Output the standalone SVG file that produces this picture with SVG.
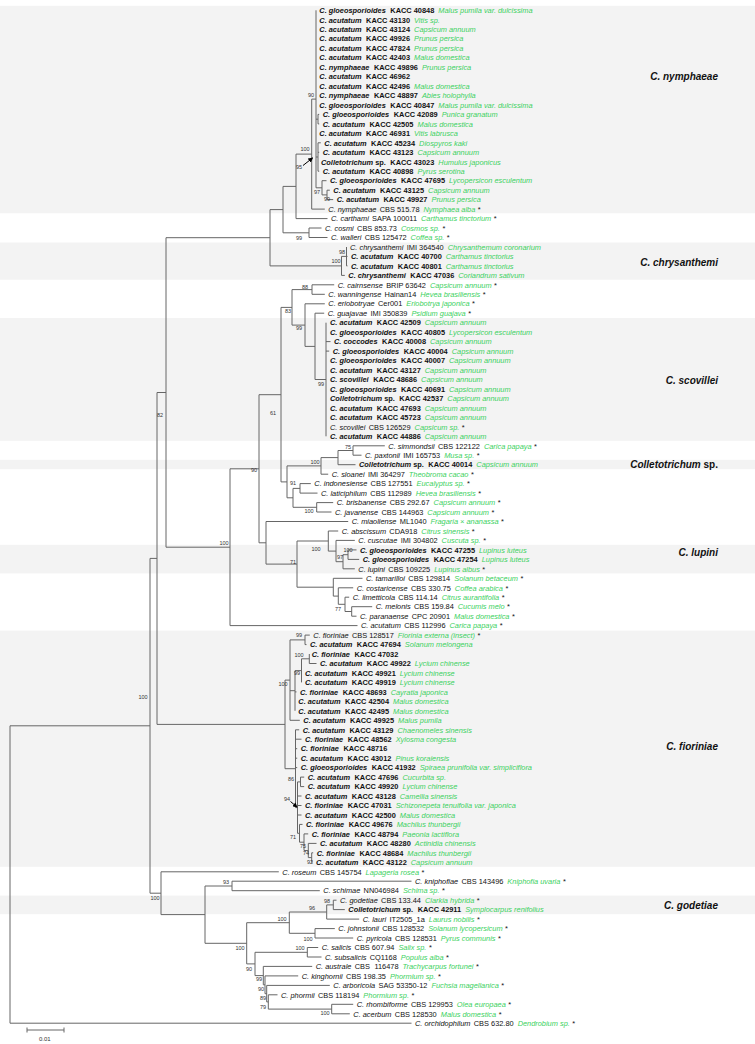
<svg xmlns="http://www.w3.org/2000/svg" width="755" height="1044" viewBox="0 0 755 1044">
<style>
text{font-family:"Liberation Sans",Arial,sans-serif;font-size:7.4px;fill:#111}
.i{font-style:italic}.b{font-weight:bold}
.h{fill:#3bd160;font-style:italic;font-weight:normal}
.bs{font-size:5.5px;fill:#333;text-anchor:middle}
.cl{font-size:10px;font-weight:bold;font-style:italic;text-anchor:end}
.ln{stroke:#666;stroke-width:1;fill:none}
.ar{stroke:#000;stroke-width:1;fill:none}
.band{fill:#f3f3f3}
</style>
<defs>
<marker id="ah" viewBox="0 0 6 6" refX="5" refY="3" markerWidth="5" markerHeight="5" orient="auto"><path d="M0 0L6 3L0 6z" fill="#000"/></marker>
</defs>
<g id="bands">
<rect class="band" x="0" y="5.8" width="755" height="207.5"/>
<rect class="band" x="0" y="242.5" width="755" height="37.2"/>
<rect class="band" x="0" y="318" width="755" height="122.8"/>
<rect class="band" x="0" y="459.8" width="755" height="9.4"/>
<rect class="band" x="0" y="544.8" width="755" height="28.6"/>
<rect class="band" x="0" y="630.6" width="755" height="236.2"/>
<rect class="band" x="0" y="895.6" width="755" height="18.6"/>
</g>
<g id="connectors" class="ln">
<path d="M316 10.3V187.8M316 119.2H318M318 114.4V123.9M318 114.4H319.2M318 123.9H319.2M316 157H318M318 142.8V171.2M318 142.8H320.8M318 152.3H319.2M318 171.2H319.2M316 187.8H322M322 180.7V194.9M322 180.7H326.5M322 194.9H327M327 190.2V199.6M327 190.2H329.8M327 199.6H333.2M311.7 99.1V209.1M311.7 99.1H316M311.7 209.1H324.8M296 154.1V218.6M296 154.1H311.7M296 218.6H327.5M309 228V237.5M309 228H321.5M309 237.5H327.5M283 186.4V232.8M283 186.4H296M283 232.8H309"/>
<path d="M346.5 247V265.9M346.5 256.4H347.5M346.5 265.9H347.5M341.5 256.4V275.4M341.5 256.4H346.5M341.5 275.4H344.8M270 209.6V265.9M270 209.6H283M270 265.9H341.5M312 284.8V294.3M312 284.8H334.2M312 294.3H324.8M326 322.7V436.3M326 341.6H330.5M326 351.1H329.2M315 313.2V379.5M315 313.2H324.2M315 379.5H326M305 303.8V346.4M305 303.8H324.8M305 346.4H315M292 289.6V325.1M292 289.6H312M292 325.1H305"/>
<path d="M353 445.8V455.2M353 445.8H384.8M353 455.2H361.5M338 450.5V464.7M338 450.5H353M338 464.7H355.5M321 457.6V474.2M321 457.6H338M321 474.2H328.2M300 483.6V493.1M300 483.6H310.8M300 493.1H317.5M316.7 502.6V512M316.7 502.6H333.2M316.7 512H331.5M293 488.4V507.3M293 488.4H300M293 507.3H316.7M287 465.9V497.8M287 465.9H321M287 497.8H293M281 307.4V481.9M281 307.4H292M281 481.9H287"/>
<path d="M348 549.9V559.4M348 549.9H356.5M348 559.4H359.2M343 554.7V568.8M343 554.7H348M343 568.8H354.8M336 540.4V561.7M336 540.4H354.8M336 561.7H343M328.3 531V551.1M328.3 531H338.2M328.3 551.1H336M351.7 606.7V616.2M351.7 606.7H372.2M351.7 616.2H356.5M345 597.2V611.5M345 597.2H349.2M345 611.5H351.7M338.3 587.8V604.3M338.3 587.8H353.2M338.3 604.3H345M333.3 578.3V596.1M333.3 578.3H362.5M333.3 596.1H338.3M297 541V587.2M297 541H328.3M297 587.2H333.3M266 521.5V564.1M266 521.5H348.2M266 564.1H297M259 394.7V542.8M259 394.7H281M259 542.8H266M230 468.8V625.6M230 468.8H259M230 625.6H357.5M166 237.7V547.2M166 237.7H270M166 547.2H230"/>
<path d="M305 635.1V644.6M305 635.1H309.8M305 644.6H306.5M309.3 654V663.5M309.3 663.5H316.5M301.5 658.8V682.4M301.5 658.8H309.3M295 670.6V710.8M295 670.6H301.5M295 691.9H296.5M290 639.9V720.3M290 639.9H305M290 690.7H295M290 720.3H299.8M311.7 852.8V862.3M311.7 852.8H313.2M311.7 862.3H312.5M308.3 843.4V857.6M308.3 843.4H316.5M308.3 857.6H311.7M304 833.9V850.5M304 833.9H308.2M304 850.5H308.3M299.5 824.4V842.2M299.5 824.4H302.5M299.5 842.2H304M300.5 777.1V786.6M300.5 777.1H304.2M300.5 786.6H304.2M297.5 781.9V833.3M297.5 781.9H300.5M297.5 796H301.5M297.5 805.5H301.5M297.5 815H301.5M297.5 833.3H299.5M295.5 729.8V807.6M295.5 729.8H299.2M295.5 739.2H301.5M295.5 748.7H297.2M295.5 758.2H297.2M295.5 767.6H297.2M295.5 807.6H297.5M285 680.1V768.7M285 680.1H290M285 768.7H295.5"/>
<path d="M333.3 900.2V909.6M333.3 900.2H336.5M333.3 909.6H344.8M326.7 904.9V919.1M326.7 904.9H333.3M326.7 919.1H359.2M315 928.6V938M315 928.6H334.8M315 938H353.2M289.3 912V933.3M289.3 912H326.7M289.3 933.3H315M307.3 947.5V957M307.3 947.5H318.2M307.3 957H321.5M331.7 1004.3V1013.8M331.7 1004.3H353.2M331.7 1013.8H349.8M268.3 994.8V1009.1M268.3 994.8H277.5M268.3 1009.1H331.7M266.7 985.4V1001.9M266.7 985.4H329.8M266.7 1001.9H268.3M265 975.9V993.7M265 975.9H298.2M265 993.7H266.7M263.3 966.4V984.8M263.3 966.4H312.2M263.3 984.8H265M255 952.3V975.6M255 952.3H307.3M255 975.6H263.3M246.7 922.7V963.9M246.7 922.7H289.3M246.7 963.9H255M232 881.2V890.7M232 881.2H411.5M232 890.7H319.8M205 886V943.3M205 886H232M205 943.3H246.7M161 871.8V914.6M161 871.8H278.8M161 914.6H205M157 392.5V724.4M157 392.5H166M157 724.4H285M150 558.4V893.2M150 558.4H157M150 893.2H161M10 725.8V1023.2M10 725.8H150M10 1023.2H411.5"/>
<path d="M27 1030H64M27 1027.5V1032.5M64 1027.5V1032.5"/>
</g>
<g id="arrows" class="ar">
<path d="M303 165.5L312.5 158" marker-end="url(#ah)"/>
<path d="M290.5 801.5L297 807" marker-end="url(#ah)"/>
</g>
<g id="bootstrap">
<text class="bs" x="311" y="97">90</text><text class="bs" x="305" y="151">100</text><text class="bs" x="299" y="169">95</text><text class="bs" x="317" y="194">97</text><text class="bs" x="327" y="201">99</text>
<text class="bs" x="299" y="240">99</text><text class="bs" x="342" y="254">98</text><text class="bs" x="336" y="263">100</text><text class="bs" x="305" y="289">88</text><text class="bs" x="288" y="313">83</text><text class="bs" x="299" y="330">99</text><text class="bs" x="321" y="386">99</text>
<text class="bs" x="273" y="415">61</text><text class="bs" x="348" y="449">75</text><text class="bs" x="315" y="464">100</text><text class="bs" x="254" y="472">90</text><text class="bs" x="293" y="485">91</text><text class="bs" x="309" y="513">100</text>
<text class="bs" x="160" y="417">82</text><text class="bs" x="224" y="545">100</text><text class="bs" x="316" y="551">100</text><text class="bs" x="348" y="552">100</text><text class="bs" x="340" y="559">97</text><text class="bs" x="293" y="564">71</text><text class="bs" x="338" y="611">77</text>
<text class="bs" x="299" y="637">99</text><text class="bs" x="299" y="657">100</text><text class="bs" x="297" y="675">99</text><text class="bs" x="283" y="686">100</text><text class="bs" x="143" y="699">100</text>
<text class="bs" x="291" y="781">86</text><text class="bs" x="287" y="801">94</text><text class="bs" x="293" y="839">71</text><text class="bs" x="303" y="848">75</text><text class="bs" x="306" y="855">74</text><text class="bs" x="310" y="864">92</text>
<text class="bs" x="155" y="900">100</text><text class="bs" x="226" y="884">93</text><text class="bs" x="327" y="903">98</text><text class="bs" x="312" y="910">96</text><text class="bs" x="282" y="921">100</text><text class="bs" x="308" y="941">100</text>
<text class="bs" x="240" y="950">100</text><text class="bs" x="300" y="950">100</text><text class="bs" x="249" y="971">90</text><text class="bs" x="259" y="981">99</text><text class="bs" x="261" y="991">90</text><text class="bs" x="263" y="1000">89</text><text class="bs" x="263" y="1009">79</text><text class="bs" x="325" y="1015">100</text>
<text style="font-size:6px;fill:#333" x="39" y="1041">0.01</text>
</g>
<g id="taxa">
<text x="319.3" y="13"><tspan class="b i">C. gloeosporioides</tspan><tspan class="b" dx="4.5">KACC 40848</tspan><tspan class="h" dx="4">Malus pumila var. dulcissima</tspan></text>
<text x="319.3" y="22.5"><tspan class="b i">C. acutatum</tspan><tspan class="b" dx="4.5">KACC 43130</tspan><tspan class="h" dx="4">Vitis sp.</tspan></text>
<text x="319.3" y="31.9"><tspan class="b i">C. acutatum</tspan><tspan class="b" dx="4.5">KACC 43124</tspan><tspan class="h" dx="4">Capsicum annuum</tspan></text>
<text x="319.3" y="41.4"><tspan class="b i">C. acutatum</tspan><tspan class="b" dx="4.5">KACC 49926</tspan><tspan class="h" dx="4">Prunus persica</tspan></text>
<text x="319.3" y="50.9"><tspan class="b i">C. acutatum</tspan><tspan class="b" dx="4.5">KACC 47824</tspan><tspan class="h" dx="4">Prunus persica</tspan></text>
<text x="319.3" y="60.3"><tspan class="b i">C. acutatum</tspan><tspan class="b" dx="4.5">KACC 42403</tspan><tspan class="h" dx="4">Malus domestica</tspan></text>
<text x="319.3" y="69.8"><tspan class="b i">C. nymphaeae</tspan><tspan class="b" dx="4.5">KACC 49896</tspan><tspan class="h" dx="4">Prunus persica</tspan></text>
<text x="319.3" y="79.3"><tspan class="b i">C. acutatum</tspan><tspan class="b" dx="4.5">KACC 46962</tspan></text>
<text x="319.3" y="88.7"><tspan class="b i">C. acutatum</tspan><tspan class="b" dx="4.5">KACC 42496</tspan><tspan class="h" dx="4">Malus domestica</tspan></text>
<text x="319.3" y="98.2"><tspan class="b i">C. nymphaeae</tspan><tspan class="b" dx="4.5">KACC 48897</tspan><tspan class="h" dx="4">Abies holophylla</tspan></text>
<text x="319.3" y="107.7"><tspan class="b i">C. gloeosporioides</tspan><tspan class="b" dx="4.5">KACC 40847</tspan><tspan class="h" dx="4">Malus pumila var. dulcissima</tspan></text>
<text x="322.7" y="117.1"><tspan class="b i">C. gloeosporioides</tspan><tspan class="b" dx="4.5">KACC 42089</tspan><tspan class="h" dx="4">Punica granatum</tspan></text>
<text x="322.7" y="126.6"><tspan class="b i">C. acutatum</tspan><tspan class="b" dx="4.5">KACC 42505</tspan><tspan class="h" dx="4">Malus domestica</tspan></text>
<text x="319.3" y="136.1"><tspan class="b i">C. acutatum</tspan><tspan class="b" dx="4.5">KACC 46931</tspan><tspan class="h" dx="4">Vitis labrusca</tspan></text>
<text x="324.3" y="145.5"><tspan class="b i">C. acutatum</tspan><tspan class="b" dx="4.5">KACC 45234</tspan><tspan class="h" dx="4">Diospyros kaki</tspan></text>
<text x="322.7" y="155"><tspan class="b i">C. acutatum</tspan><tspan class="b" dx="4.5">KACC 43123</tspan><tspan class="h" dx="4">Capsicum annuum</tspan></text>
<text x="321" y="164.5"><tspan class="b i">Colletotrichum</tspan><tspan class="b" dx="2">sp.</tspan><tspan class="b" dx="4.5">KACC 43023</tspan><tspan class="h" dx="4">Humulus japonicus</tspan></text>
<text x="322.7" y="173.9"><tspan class="b i">C. acutatum</tspan><tspan class="b" dx="4.5">KACC 40898</tspan><tspan class="h" dx="4">Pyrus serotina</tspan></text>
<text x="330" y="183.4"><tspan class="b i">C. gloeosporioides</tspan><tspan class="b" dx="4.5">KACC 47695</tspan><tspan class="h" dx="4">Lycopersicon esculentum</tspan></text>
<text x="333.3" y="192.9"><tspan class="b i">C. acutatum</tspan><tspan class="b" dx="4.5">KACC 43125</tspan><tspan class="h" dx="4">Capsicum annuum</tspan></text>
<text x="336.7" y="202.3"><tspan class="b i">C. acutatum</tspan><tspan class="b" dx="4.5">KACC 49927</tspan><tspan class="h" dx="4">Prunus persica</tspan></text>
<text x="328.3" y="211.8"><tspan class="i">C. nymphaeae</tspan><tspan dx="3.3">CBS 515.78</tspan><tspan class="h" dx="4">Nymphaea alba</tspan><tspan dx="2.5">*</tspan></text>
<text x="331" y="221.3"><tspan class="i">C. carthami</tspan><tspan dx="3.3">SAPA 100011</tspan><tspan class="h" dx="4">Carthamus tinctorium</tspan><tspan dx="2.5">*</tspan></text>
<text x="325" y="230.7"><tspan class="i">C. cosmi</tspan><tspan dx="3.3">CBS 853.73</tspan><tspan class="h" dx="4">Cosmos sp.</tspan><tspan dx="2.5">*</tspan></text>
<text x="331" y="240.2"><tspan class="i">C. walleri</tspan><tspan dx="3.3">CBS 125472</tspan><tspan class="h" dx="4">Coffea sp.</tspan><tspan dx="2.5">*</tspan></text>
<text x="350" y="249.7"><tspan class="i">C. chrysanthemi</tspan><tspan dx="3.3">IMI 364540</tspan><tspan class="h" dx="4">Chrysanthemum coronarium</tspan></text>
<text x="351" y="259.1"><tspan class="b i">C. acutatum</tspan><tspan class="b" dx="4.5">KACC 40700</tspan><tspan class="h" dx="4">Carthamus tinctorius</tspan></text>
<text x="351" y="268.6"><tspan class="b i">C. acutatum</tspan><tspan class="b" dx="4.5">KACC 40801</tspan><tspan class="h" dx="4">Carthamus tinctorius</tspan></text>
<text x="348.3" y="278.1"><tspan class="b i">C. chrysanthemi</tspan><tspan class="b" dx="4.5">KACC 47036</tspan><tspan class="h" dx="4">Coriandrum sativum</tspan></text>
<text x="337.7" y="287.5"><tspan class="i">C. cairnsense</tspan><tspan dx="3.3">BRIP 63642</tspan><tspan class="h" dx="4">Capsicum annuum</tspan><tspan dx="2.5">*</tspan></text>
<text x="328.3" y="297"><tspan class="i">C. wanningense</tspan><tspan dx="3.3">Hainan14</tspan><tspan class="h" dx="4">Hevea brasiliensis</tspan><tspan dx="2.5">*</tspan></text>
<text x="328.3" y="306.4"><tspan class="i">C. eriobotryae</tspan><tspan dx="3.3">Cer001</tspan><tspan class="h" dx="4">Eriobotrya japonica</tspan><tspan dx="2.5">*</tspan></text>
<text x="327.7" y="315.9"><tspan class="i">C. guajavae</tspan><tspan dx="3.3">IMI 350839</tspan><tspan class="h" dx="4">Psidium guajava</tspan><tspan dx="2.5">*</tspan></text>
<text x="330" y="325.4"><tspan class="b i">C. acutatum</tspan><tspan class="b" dx="4.5">KACC 42509</tspan><tspan class="h" dx="4">Capsicum annuum</tspan></text>
<text x="330" y="334.9"><tspan class="b i">C. gloeosporioides</tspan><tspan class="b" dx="4.5">KACC 40805</tspan><tspan class="h" dx="4">Lycopersicon esculentum</tspan></text>
<text x="334" y="344.3"><tspan class="b i">C. coccodes</tspan><tspan class="b" dx="4.5">KACC 40008</tspan><tspan class="h" dx="4">Capsicum annuum</tspan></text>
<text x="332.7" y="353.8"><tspan class="b i">C. gloeosporioides</tspan><tspan class="b" dx="4.5">KACC 40004</tspan><tspan class="h" dx="4">Capsicum annuum</tspan></text>
<text x="330" y="363.3"><tspan class="b i">C. gloeosporioides</tspan><tspan class="b" dx="4.5">KACC 40007</tspan><tspan class="h" dx="4">Capsicum annuum</tspan></text>
<text x="330" y="372.7"><tspan class="b i">C. acutatum</tspan><tspan class="b" dx="4.5">KACC 43127</tspan><tspan class="h" dx="4">Capsicum annuum</tspan></text>
<text x="330" y="382.2"><tspan class="b i">C. scovillei</tspan><tspan class="b" dx="4.5">KACC 48686</tspan><tspan class="h" dx="4">Capsicum annuum</tspan></text>
<text x="330" y="391.7"><tspan class="b i">C. gloeosporioides</tspan><tspan class="b" dx="4.5">KACC 40691</tspan><tspan class="h" dx="4">Capsicum annuum</tspan></text>
<text x="330" y="401.1"><tspan class="b i">Colletotrichum</tspan><tspan class="b" dx="2">sp.</tspan><tspan class="b" dx="4.5">KACC 42537</tspan><tspan class="h" dx="4">Capsicum annuum</tspan></text>
<text x="330" y="410.6"><tspan class="b i">C. acutatum</tspan><tspan class="b" dx="4.5">KACC 47693</tspan><tspan class="h" dx="4">Capsicum annuum</tspan></text>
<text x="330" y="420.1"><tspan class="b i">C. acutatum</tspan><tspan class="b" dx="4.5">KACC 45723</tspan><tspan class="h" dx="4">Capsicum annuum</tspan></text>
<text x="330" y="429.5"><tspan class="i">C. scovillei</tspan><tspan dx="3.3">CBS 126529</tspan><tspan class="h" dx="4">Capsicum sp.</tspan><tspan dx="2.5">*</tspan></text>
<text x="330" y="439"><tspan class="b i">C. acutatum</tspan><tspan class="b" dx="4.5">KACC 44886</tspan><tspan class="h" dx="4">Capsicum annuum</tspan></text>
<text x="388.3" y="448.5"><tspan class="i">C. simmondsii</tspan><tspan dx="3.3">CBS 122122</tspan><tspan class="h" dx="4">Carica papaya</tspan><tspan dx="2.5">*</tspan></text>
<text x="365" y="457.9"><tspan class="i">C. paxtonii</tspan><tspan dx="3.3">IMI 165753</tspan><tspan class="h" dx="4">Musa sp.</tspan><tspan dx="2.5">*</tspan></text>
<text x="359" y="467.4"><tspan class="b i">Colletotrichum</tspan><tspan class="b" dx="2">sp.</tspan><tspan class="b" dx="4.5">KACC 40014</tspan><tspan class="h" dx="4">Capsicum annuum</tspan></text>
<text x="331.7" y="476.9"><tspan class="i">C. sloanei</tspan><tspan dx="3.3">IMI 364297</tspan><tspan class="h" dx="4">Theobroma cacao</tspan><tspan dx="2.5">*</tspan></text>
<text x="314.3" y="486.3"><tspan class="i">C. indonesiense</tspan><tspan dx="3.3">CBS 127551</tspan><tspan class="h" dx="4">Eucalyptus sp.</tspan><tspan dx="2.5">*</tspan></text>
<text x="321" y="495.8"><tspan class="i">C. laticiphilum</tspan><tspan dx="3.3">CBS 112989</tspan><tspan class="h" dx="4">Hevea brasiliensis</tspan><tspan dx="2.5">*</tspan></text>
<text x="336.7" y="505.3"><tspan class="i">C. brisbanense</tspan><tspan dx="3.3">CBS 292.67</tspan><tspan class="h" dx="4">Capsicum annuum</tspan><tspan dx="2.5">*</tspan></text>
<text x="335" y="514.7"><tspan class="i">C. javanense</tspan><tspan dx="3.3">CBS 144963</tspan><tspan class="h" dx="4">Capsicum annuum</tspan><tspan dx="2.5">*</tspan></text>
<text x="351.7" y="524.2"><tspan class="i">C. miaoliense</tspan><tspan dx="3.3">ML1040</tspan><tspan class="h" dx="4">Fragaria × ananassa</tspan><tspan dx="2.5">*</tspan></text>
<text x="341.7" y="533.7"><tspan class="i">C. abscissum</tspan><tspan dx="3.3">CDA918</tspan><tspan class="h" dx="4">Citrus sinensis</tspan><tspan dx="2.5">*</tspan></text>
<text x="358.3" y="543.1"><tspan class="i">C. cuscutae</tspan><tspan dx="3.3">IMI 304802</tspan><tspan class="h" dx="4">Cuscuta sp.</tspan><tspan dx="2.5">*</tspan></text>
<text x="360" y="552.6"><tspan class="b i">C. gloeosporioides</tspan><tspan class="b" dx="4.5">KACC 47255</tspan><tspan class="h" dx="4">Lupinus luteus</tspan></text>
<text x="362.7" y="562.1"><tspan class="b i">C. gloeosporioides</tspan><tspan class="b" dx="4.5">KACC 47254</tspan><tspan class="h" dx="4">Lupinus luteus</tspan></text>
<text x="358.3" y="571.5"><tspan class="i">C. lupini</tspan><tspan dx="3.3">CBS 109225</tspan><tspan class="h" dx="4">Lupinus albus</tspan><tspan dx="2.5">*</tspan></text>
<text x="366" y="581"><tspan class="i">C. tamarilloi</tspan><tspan dx="3.3">CBS 129814</tspan><tspan class="h" dx="4">Solanum betaceum</tspan><tspan dx="2.5">*</tspan></text>
<text x="356.7" y="590.5"><tspan class="i">C. costaricense</tspan><tspan dx="3.3">CBS 330.75</tspan><tspan class="h" dx="4">Coffea arabica</tspan><tspan dx="2.5">*</tspan></text>
<text x="352.7" y="599.9"><tspan class="i">C. limetticola</tspan><tspan dx="3.3">CBS 114.14</tspan><tspan class="h" dx="4">Citrus aurantifolia</tspan><tspan dx="2.5">*</tspan></text>
<text x="375.7" y="609.4"><tspan class="i">C. melonis</tspan><tspan dx="3.3">CBS 159.84</tspan><tspan class="h" dx="4">Cucumis melo</tspan><tspan dx="2.5">*</tspan></text>
<text x="360" y="618.9"><tspan class="i">C. paranaense</tspan><tspan dx="3.3">CPC 20901</tspan><tspan class="h" dx="4">Malus domestica</tspan><tspan dx="2.5">*</tspan></text>
<text x="361" y="628.3"><tspan class="i">C. acutatum</tspan><tspan dx="3.3">CBS 112996</tspan><tspan class="h" dx="4">Carica papaya</tspan><tspan dx="2.5">*</tspan></text>
<text x="313.3" y="637.8"><tspan class="i">C. fioriniae</tspan><tspan dx="3.3">CBS 128517</tspan><tspan class="h" dx="4">Fiorinia externa (insect)</tspan><tspan dx="2.5">*</tspan></text>
<text x="310" y="647.3"><tspan class="b i">C. acutatum</tspan><tspan class="b" dx="4.5">KACC 47694</tspan><tspan class="h" dx="4">Solanum melongena</tspan></text>
<text x="311.7" y="656.7"><tspan class="b i">C. fioriniae</tspan><tspan class="b" dx="4.5">KACC 47032</tspan></text>
<text x="320" y="666.2"><tspan class="b i">C. acutatum</tspan><tspan class="b" dx="4.5">KACC 49922</tspan><tspan class="h" dx="4">Lycium chinense</tspan></text>
<text x="305" y="675.7"><tspan class="b i">C. acutatum</tspan><tspan class="b" dx="4.5">KACC 49921</tspan><tspan class="h" dx="4">Lycium chinense</tspan></text>
<text x="305" y="685.1"><tspan class="b i">C. acutatum</tspan><tspan class="b" dx="4.5">KACC 49919</tspan><tspan class="h" dx="4">Lycium chinense</tspan></text>
<text x="300" y="694.6"><tspan class="b i">C. fioriniae</tspan><tspan class="b" dx="4.5">KACC 48693</tspan><tspan class="h" dx="4">Cayratia japonica</tspan></text>
<text x="298.3" y="704.1"><tspan class="b i">C. acutatum</tspan><tspan class="b" dx="4.5">KACC 42504</tspan><tspan class="h" dx="4">Malus domestica</tspan></text>
<text x="298.3" y="713.5"><tspan class="b i">C. acutatum</tspan><tspan class="b" dx="4.5">KACC 42495</tspan><tspan class="h" dx="4">Malus domestica</tspan></text>
<text x="303.3" y="723"><tspan class="b i">C. acutatum</tspan><tspan class="b" dx="4.5">KACC 49925</tspan><tspan class="h" dx="4">Malus pumila</tspan></text>
<text x="302.7" y="732.5"><tspan class="b i">C. acutatum</tspan><tspan class="b" dx="4.5">KACC 43129</tspan><tspan class="h" dx="4">Chaenomeles sinensis</tspan></text>
<text x="305" y="741.9"><tspan class="b i">C. fioriniae</tspan><tspan class="b" dx="4.5">KACC 48562</tspan><tspan class="h" dx="4">Xylosma congesta</tspan></text>
<text x="300.7" y="751.4"><tspan class="b i">C. fioriniae</tspan><tspan class="b" dx="4.5">KACC 48716</tspan></text>
<text x="300.7" y="760.9"><tspan class="b i">C. acutatum</tspan><tspan class="b" dx="4.5">KACC 43012</tspan><tspan class="h" dx="4">Pinus koraiensis</tspan></text>
<text x="300.7" y="770.3"><tspan class="b i">C. gloeosporioides</tspan><tspan class="b" dx="4.5">KACC 41932</tspan><tspan class="h" dx="4">Spiraea prunifolia var. simpliciflora</tspan></text>
<text x="307.7" y="779.8"><tspan class="b i">C. acutatum</tspan><tspan class="b" dx="4.5">KACC 47696</tspan><tspan class="h" dx="4">Cucurbita sp.</tspan></text>
<text x="307.7" y="789.3"><tspan class="b i">C. acutatum</tspan><tspan class="b" dx="4.5">KACC 49920</tspan><tspan class="h" dx="4">Lycium chinense</tspan></text>
<text x="305" y="798.7"><tspan class="b i">C. acutatum</tspan><tspan class="b" dx="4.5">KACC 43128</tspan><tspan class="h" dx="4">Camellia sinensis</tspan></text>
<text x="305" y="808.2"><tspan class="b i">C. fioriniae</tspan><tspan class="b" dx="4.5">KACC 47031</tspan><tspan class="h" dx="4">Schizonepeta tenuifolia var. japonica</tspan></text>
<text x="305" y="817.7"><tspan class="b i">C. acutatum</tspan><tspan class="b" dx="4.5">KACC 42500</tspan><tspan class="h" dx="4">Malus domestica</tspan></text>
<text x="306" y="827.1"><tspan class="b i">C. fioriniae</tspan><tspan class="b" dx="4.5">KACC 49676</tspan><tspan class="h" dx="4">Machilus thunbergii</tspan></text>
<text x="311.7" y="836.6"><tspan class="b i">C. fioriniae</tspan><tspan class="b" dx="4.5">KACC 48794</tspan><tspan class="h" dx="4">Paeonia lactiflora</tspan></text>
<text x="320" y="846.1"><tspan class="b i">C. acutatum</tspan><tspan class="b" dx="4.5">KACC 48280</tspan><tspan class="h" dx="4">Actinidia chinensis</tspan></text>
<text x="316.7" y="855.5"><tspan class="b i">C. fioriniae</tspan><tspan class="b" dx="4.5">KACC 48684</tspan><tspan class="h" dx="4">Machilus thunbergii</tspan></text>
<text x="316" y="865"><tspan class="b i">C. acutatum</tspan><tspan class="b" dx="4.5">KACC 43122</tspan><tspan class="h" dx="4">Capsicum annuum</tspan></text>
<text x="282.3" y="874.5"><tspan class="i">C. roseum</tspan><tspan dx="3.3">CBS 145754</tspan><tspan class="h" dx="4">Lapageria rosea</tspan><tspan dx="2.5">*</tspan></text>
<text x="415" y="883.9"><tspan class="i">C. kniphofiae</tspan><tspan dx="3.3">CBS 143496</tspan><tspan class="h" dx="4">Kniphofia uvaria</tspan><tspan dx="2.5">*</tspan></text>
<text x="323.3" y="893.4"><tspan class="i">C. schimae</tspan><tspan dx="3.3">NN046984</tspan><tspan class="h" dx="4">Schima sp.</tspan><tspan dx="2.5">*</tspan></text>
<text x="340" y="902.9"><tspan class="i">C. godetiae</tspan><tspan dx="3.3">CBS 133.44</tspan><tspan class="h" dx="4">Clarkia hybrida</tspan><tspan dx="2.5">*</tspan></text>
<text x="348.3" y="912.3"><tspan class="b i">Colletotrichum</tspan><tspan class="b" dx="2">sp.</tspan><tspan class="b" dx="4.5">KACC 42911</tspan><tspan class="h" dx="4">Symplocarpus renifolius</tspan></text>
<text x="362.7" y="921.8"><tspan class="i">C. lauri</tspan><tspan dx="3.3">IT2505_1a</tspan><tspan class="h" dx="4">Laurus nobilis</tspan><tspan dx="2.5">*</tspan></text>
<text x="338.3" y="931.3"><tspan class="i">C. johnstonii</tspan><tspan dx="3.3">CBS 128532</tspan><tspan class="h" dx="4">Solanum lycopersicum</tspan><tspan dx="2.5">*</tspan></text>
<text x="356.7" y="940.7"><tspan class="i">C. pyricola</tspan><tspan dx="3.3">CBS 128531</tspan><tspan class="h" dx="4">Pyrus communis</tspan><tspan dx="2.5">*</tspan></text>
<text x="321.7" y="950.2"><tspan class="i">C. salicis</tspan><tspan dx="3.3">CBS 607.94</tspan><tspan class="h" dx="4">Salix sp.</tspan><tspan dx="2.5">*</tspan></text>
<text x="325" y="959.7"><tspan class="i">C. subsalicis</tspan><tspan dx="3.3">CQ1168</tspan><tspan class="h" dx="4">Populus alba</tspan><tspan dx="2.5">*</tspan></text>
<text x="315.7" y="969.1"><tspan class="i">C. australe</tspan><tspan dx="3.3">CBS</tspan><tspan dx="4.5">116478</tspan><tspan class="h" dx="4">Trachycarpus fortunei</tspan><tspan dx="2.5">*</tspan></text>
<text x="301.7" y="978.6"><tspan class="i">C. kinghornii</tspan><tspan dx="3.3">CBS 198.35</tspan><tspan class="h" dx="4">Phormium sp.</tspan><tspan dx="2.5">*</tspan></text>
<text x="333.3" y="988.1"><tspan class="i">C. arboricola</tspan><tspan dx="3.3">SAG 53350-12</tspan><tspan class="h" dx="4">Fuchsia magellanica</tspan><tspan dx="2.5">*</tspan></text>
<text x="281" y="997.5"><tspan class="i">C. phormii</tspan><tspan dx="3.3">CBS 118194</tspan><tspan class="h" dx="4">Phormium sp.</tspan><tspan dx="2.5">*</tspan></text>
<text x="356.7" y="1007"><tspan class="i">C. rhombiforme</tspan><tspan dx="3.3">CBS 129953</tspan><tspan class="h" dx="4">Olea europaea</tspan><tspan dx="2.5">*</tspan></text>
<text x="353.3" y="1016.5"><tspan class="i">C. acerbum</tspan><tspan dx="3.3">CBS 128530</tspan><tspan class="h" dx="4">Malus domestica</tspan><tspan dx="2.5">*</tspan></text>
<text x="415" y="1025.9"><tspan class="i">C. orchidophilum</tspan><tspan dx="3.3">CBS 632.80</tspan><tspan class="h" dx="4">Dendrobium sp.</tspan><tspan dx="2.5">*</tspan></text>
</g>
<g id="clades">
<text class="cl" x="718" y="80">C. nymphaeae</text>
<text class="cl" x="718" y="266">C. chrysanthemi</text>
<text class="cl" x="718" y="384">C. scovillei</text>
<text class="cl" x="718" y="468"><tspan>Colletotrichum</tspan><tspan style="font-style:normal"> sp.</tspan></text>
<text class="cl" x="718" y="556">C. lupini</text>
<text class="cl" x="718" y="750">C. fioriniae</text>
<text class="cl" x="718" y="909">C. godetiae</text>
</g>
</svg>
